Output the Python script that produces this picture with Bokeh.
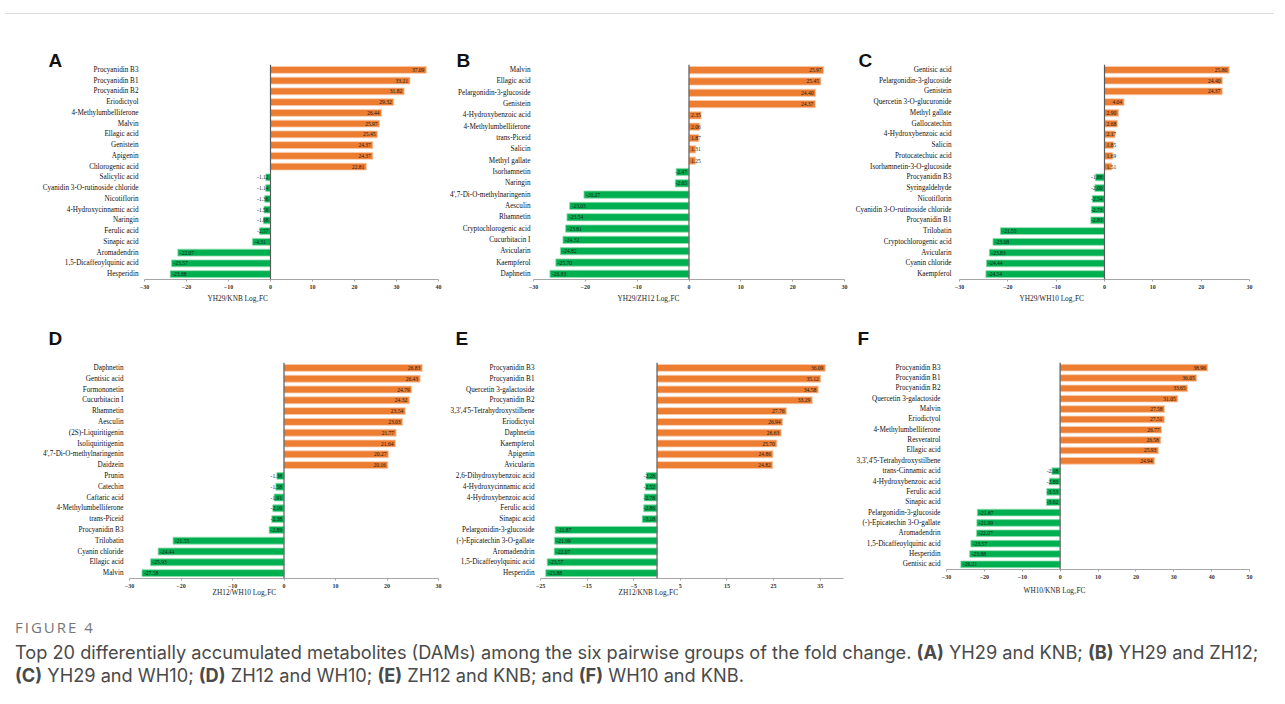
from bokeh.plotting import figure
from bokeh.models import FactorRange, Range1d, FixedTicker, Span, Div, ColumnDataSource, Title, Spacer
from bokeh.layouts import column, row
from bokeh.core.properties import value
from bokeh.embed import file_html
from bokeh.resources import INLINE

# ---------------- data ----------------
a_names = ["Procyanidin B3", "Procyanidin B1", "Procyanidin B2", "Eriodictyol", "4-Methylumbelliferone",
           "Malvin", "Ellagic acid", "Genistein", "Apigenin", "Chlorogenic acid", "Salicylic acid",
           "Cyanidin 3-O-rutinoside chloride", "Nicotiflorin", "4-Hydroxycinnamic acid", "Naringin",
           "Ferulic acid", "Sinapic acid", "Aromadendrin", "1,5-Dicaffeoylquinic acid", "Hesperidin"]
a_values = [37.09, 33.21, 31.82, 29.32, 26.44, 25.97, 25.45, 24.37, 24.37, 22.81, -1.12, -1.14, -1.36,
            -1.56, -1.68, -2.57, -4.31, -22.07, -23.57, -23.88]

b_names = ["Malvin", "Ellagic acid", "Pelargonidin-3-glucoside", "Genistein", "4-Hydroxybenzoic acid",
           "4-Methylumbelliferone", "trans-Piceid", "Salicin", "Methyl gallate", "Isorhamnetin", "Naringin",
           "4',7-Di-O-methylnaringenin", "Aesculin", "Rhamnetin", "Cryptochlorogenic acid", "Cucurbitacin I",
           "Avicularin", "Kaempferol", "Daphnetin"]
b_values = [25.97, 25.45, 24.40, 24.37, 2.35, 2.06, 1.87, 1.31, 1.25, -2.47, -2.65, -20.27, -23.03, -23.54,
            -23.81, -24.32, -24.82, -25.70, -26.83]

c_names = ["Gentisic acid", "Pelargonidin-3-glucoside", "Genistein", "Quercetin 3-O-glucuronide",
           "Methyl gallate", "Gallocatechin", "4-Hydroxybenzoic acid", "Salicin", "Protocatechuic acid",
           "Isorhamnetin-3-O-glucoside", "Procyanidin B3", "Syringaldehyde", "Nicotiflorin",
           "Cyanidin 3-O-rutinoside chloride", "Procyanidin B1", "Trilobatin", "Cryptochlorogenic acid",
           "Avicularin", "Cyanin chloride", "Kaempferol"]
c_values = [25.80, 24.40, 24.37, 4.04, 2.90, 2.68, 2.17, 1.85, 1.69, 1.51, -1.88, -2.00, -2.54, -2.73,
            -2.83, -21.55, -23.08, -23.83, -24.44, -24.54]

d_names = ["Daphnetin", "Gentisic acid", "Formononetin", "Cucurbitacin I", "Rhamnetin", "Aesculin",
           "(2S)-Liquiritigenin", "Isoliquiritigenin", "4',7-Di-O-methylnaringenin", "Daidzein", "Prunin",
           "Catechin", "Caftaric acid", "4-Methylumbelliferone", "trans-Piceid", "Procyanidin B3",
           "Trilobatin", "Cyanin chloride", "Ellagic acid", "Malvin"]
d_values = [26.83, 26.43, 24.79, 24.32, 23.54, 23.03, 21.77, 21.64, 20.27, 20.16, -1.38, -1.58, -1.91,
            -2.16, -2.38, -2.89, -21.55, -24.44, -25.93, -27.58]

e_names = ["Procyanidin B3", "Procyanidin B1", "Quercetin 3-galactoside", "Procyanidin B2",
           "3,3',4'5-Tetrahydroxystilbene", "Eriodictyol", "Daphnetin", "Kaempferol", "Apigenin",
           "Avicularin", "2,6-Dihydroxybenzoic acid", "4-Hydroxycinnamic acid", "4-Hydroxybenzoic acid",
           "Ferulic acid", "Sinapic acid", "Pelargonidin-3-glucoside", "(-)-Epicatechin 3-O-gallate",
           "Aromadendrin", "1,5-Dicaffeoylquinic acid", "Hesperidin"]
e_values = [36.09, 35.12, 34.58, 33.29, 27.76, 26.94, 26.63, 25.70, 24.86, 24.82, -2.28, -2.52, -2.78,
            -2.86, -3.18, -21.87, -21.99, -22.07, -23.57, -23.88]

f_names = ["Procyanidin B3", "Procyanidin B1", "Procyanidin B2", "Quercetin 3-galactoside", "Malvin",
           "Eriodictyol", "4-Methylumbelliferone", "Resveratrol", "Ellagic acid",
           "3,3',4'5-Tetrahydroxystilbene", "trans-Cinnamic acid", "4-Hydroxybenzoic acid", "Ferulic acid",
           "Sinapic acid", "Pelargonidin-3-glucoside", "(-)-Epicatechin 3-O-gallate", "Aromadendrin",
           "1,5-Dicaffeoylquinic acid", "Hesperidin", "Gentisic acid"]
f_values = [38.96, 36.05, 33.65, 31.05, 27.58, 27.51, 26.77, 26.58, 25.93, 24.94, -2.18, -2.80, -3.53,
            -3.62, -21.87, -21.99, -22.07, -23.57, -23.88, -26.21]

a_ticks = [-30, -20, -10, 0, 10, 20, 30, 40]
b_ticks = [-30, -20, -10, 0, 10, 20, 30]
c_ticks = [-30, -20, -10, 0, 10, 20, 30]
d_ticks = [-30, -20, -10, 0, 10, 20, 30]
e_ticks = [-25, -15, -5, 5, 15, 25, 35]
f_ticks = [-30, -20, -10, 0, 10, 20, 30, 40, 50]

caption_label = "FIGURE 4"
caption_line1 = ("Top 20 differentially accumulated metabolites (DAMs) among the six pairwise groups of the fold "
                 "change. <b>(A)</b> YH29 and KNB; <b>(B)</b> YH29 and ZH12;")
caption_line2 = ("<b>(C)</b> YH29 and WH10; <b>(D)</b> ZH12 and WH10; <b>(E)</b> ZH12 and KNB; and "
                 "<b>(F)</b> WH10 and KNB.")

ORANGE = "#ED7D31"
GREEN = "#00B050"
SERIF = "Liberation Serif"


def panel(letter, names, values, xlabel, xr, ticks, width, height, borders, letter_dx, letter_so,
          xlabel_dx, xlabel_so, standoff):
    bl, br, bt, bb = borders
    p = figure(width=width, height=height, y_range=FactorRange(factors=names[::-1]),
               x_range=Range1d(xr[0], xr[1]), output_backend="svg", toolbar_location=None,
               min_border_left=bl, min_border_right=br, min_border_top=bt, min_border_bottom=bb,
               title=letter)
    p.outline_line_color = None
    p.xgrid.visible = False
    p.ygrid.visible = False
    p.background_fill_color = "white"
    p.border_fill_color = "white"

    # panel letter (title)
    p.title.align = "left"
    p.title.offset = letter_dx
    p.title.vertical_align = "bottom"
    p.title.standoff = letter_so
    p.title.text_font = "Liberation Sans"
    p.title.text_font_style = "bold"
    p.title.text_font_size = "19px"
    p.title.text_color = "#111111"

    # x-axis caption (title below)
    p.add_layout(Title(text=xlabel, align="left", offset=xlabel_dx, vertical_align="top",
                       standoff=xlabel_so, text_font=SERIF, text_font_style="normal",
                       text_font_size="7.3px", text_color="#1e1e1e"), "below")

    colors = [ORANGE if v >= 0 else GREEN for v in values]
    edges = ["#F8CBAD" if v >= 0 else "#8FDDAE" for v in values]
    inside = [abs(v) >= 4 for v in values]
    lx = [v if ins else 0 for v, ins in zip(values, inside)]
    align = []
    off = []
    for v, ins in zip(values, inside):
        if v >= 0:
            align.append("right" if ins else "left")
            off.append(-2 if ins else 2)
        else:
            align.append("left" if ins else "right")
            off.append(2 if ins else -2)
    src = ColumnDataSource(dict(name=names, v=values, color=colors, edge=edges,
                                lab=["%.2f" % v for v in values], lx=lx, align=align, off=off))
    p.hbar(y="name", left=0, right="v", height=0.64, fill_color="color", line_color="edge",
           line_width=0.8, source=src)
    p.add_layout(Span(location=0, dimension="height", line_color="#5a5a5a", line_width=1.2))
    p.text(x="lx", y="name", text="lab", text_align="align", text_baseline="middle", x_offset="off",
           text_font=value(SERIF), text_font_size="5.5px", text_color="#1a1a1a", source=src)

    xa = p.xaxis[0]
    xa.ticker = FixedTicker(ticks=ticks)
    xa.axis_line_color = "#a6a6a6"
    xa.major_tick_line_color = "#a6a6a6"
    xa.major_tick_out = 2
    xa.major_tick_in = 0
    xa.minor_tick_line_color = None
    xa.major_label_text_font = SERIF
    xa.major_label_text_font_style = "bold"
    xa.major_label_text_font_size = "6px"
    xa.major_label_text_color = "#333333"
    xa.major_label_standoff = 3

    ya = p.yaxis[0]
    ya.axis_line_color = None
    ya.major_tick_line_color = None
    ya.minor_tick_line_color = None
    ya.major_tick_out = 0
    ya.major_tick_in = 0
    ya.major_label_text_font = SERIF
    ya.major_label_text_font_size = "7.2px"
    ya.major_label_text_color = "#111111"
    ya.major_label_standoff = standoff
    return p


# row 1 : frame 64..279
pa = panel("A", a_names, a_values, "YH29/KNB  Log\u2082FC", (-30, 40), a_ticks,
           437, 291, (136, 7, 45, 31), -96, -12, 207 - 144, 4, 6)
pb = panel("B", b_names, b_values, "YH29/ZH12  Log\u2082FC", (-30, 30), b_ticks,
           405, 291, (88, 6, 45, 31), -77, -12, 617 - 533, 4, 3)
pc = panel("C", c_names, c_values, "YH29/WH10  Log\u2082FC", (-30, 30), c_ticks,
           418, 291, (109, 19, 45, 31), -101, -12, 1019 - 959, 4, 8)
# row 2 : frame 360..576 (F: 360..568)
pd = panel("D", d_names, d_values, "ZH12/WH10  Log\u2082FC", (-30, 30), d_ticks,
           437, 292, (121, 7, 52, 24), -81, 28, 212 - 129, -6, 6)
pe = panel("E", e_names, e_values, "ZH12/KNB  Log\u2082FC", (-25, 40), e_ticks,
           405, 292, (95, 7, 52, 24), -85, 28, 618 - 540, -6, 6)
pf = panel("F", f_names, f_values, "WH10/KNB  Log\u2082FC", (-30, 50), f_ticks,
           418, 292, (96, 19, 52, 33), -89, 28, 1023 - 946, 8, 6)

top_div = Div(text="", width=1269, height=9,
              styles={"border-bottom": "1px solid #dcdcdc", "box-sizing": "border-box"})

caption_html = (
    "<div style=\"font-family:'Open Sans'; color:#767676; font-size:15px; letter-spacing:2px; "
    "line-height:20px; margin-top:10px; margin-left:10px;\">" + caption_label + "</div>"
    "<div style=\"font-family:'Inter'; color:#4a4a4a; font-size:18.2px; line-height:23px; "
    "margin-top:4px; margin-left:10px; white-space:nowrap;\">"
    "<div style=\"height:23px;\">" + caption_line1 + "</div>"
    "<div style=\"height:23px;\">" + caption_line2 + "</div></div>"
)
cap_div = Div(text=caption_html, width=1269, height=90)

row1 = row(Spacer(width=8, height=10), column(pa), column(pb), column(pc), spacing=0)
row2 = row(Spacer(width=8, height=10), column(pd), column(pe), column(pf), spacing=0)
layout = column(top_div, row1, row2, cap_div, spacing=0)

open("out.html", "w").write(file_html(layout, INLINE))
